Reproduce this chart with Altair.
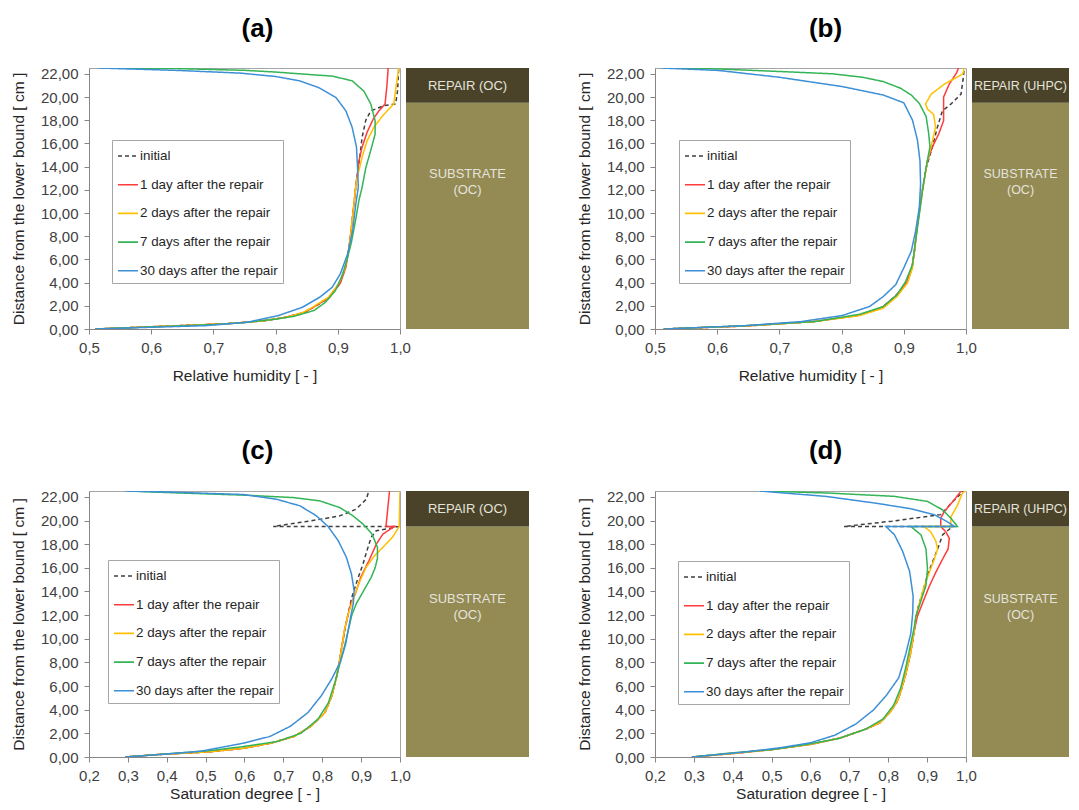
import altair as alt
import pandas as pd

FONT = "Liberation Sans"
SERIES = ["initial", "1 day after the repair", "2 days after the repair",
          "7 days after the repair", "30 days after the repair"]
COLORS = ["#3f3f3f", "#ff3b3b", "#ffc000", "#33b556", "#3d8fd6"]
DASHES = [[4, 3], [1, 0], [1, 0], [1, 0], [1, 0]]

# ---------------- (a) relative humidity, repair OC ----------------
A_INIT_X = [0.510, 0.580, 0.650, 0.720, 0.780, 0.815, 0.845, 0.862, 0.886, 0.903, 0.912, 0.918, 0.922, 0.926, 0.930, 0.936, 0.939, 0.945, 0.953, 0.974, 0.993, 0.996, 0.998]
A_INIT_Y = [0.00, 0.15, 0.30, 0.45, 0.70, 1.00, 1.40, 1.90, 2.70, 3.90, 5.30, 7.00, 8.80, 10.80, 12.80, 15.10, 16.50, 18.00, 18.80, 19.25, 19.40, 20.50, 22.50]
A_1D_X = [0.510, 0.580, 0.650, 0.720, 0.780, 0.815, 0.845, 0.862, 0.887, 0.904, 0.913, 0.918, 0.922, 0.926, 0.930, 0.934, 0.939, 0.947, 0.957, 0.966, 0.976, 0.979, 0.981]
A_1D_Y = [0.00, 0.15, 0.30, 0.45, 0.70, 1.00, 1.40, 1.90, 2.75, 3.95, 5.30, 7.00, 8.80, 10.80, 12.80, 14.50, 15.66, 16.95, 18.10, 18.80, 19.40, 21.00, 22.50]
A_2D_X = [0.510, 0.580, 0.650, 0.720, 0.780, 0.815, 0.843, 0.860, 0.885, 0.902, 0.912, 0.918, 0.922, 0.926, 0.930, 0.934, 0.939, 0.947, 0.958, 0.974, 0.990, 0.994, 0.998]
A_2D_Y = [0.00, 0.15, 0.30, 0.45, 0.70, 1.00, 1.40, 1.90, 2.75, 3.95, 5.30, 7.00, 8.80, 10.80, 12.80, 13.66, 14.80, 16.20, 17.40, 18.50, 19.40, 21.00, 22.50]
A_7D_X = [0.510, 0.600, 0.700, 0.750, 0.800, 0.830, 0.862, 0.880, 0.896, 0.907, 0.915, 0.922, 0.929, 0.934, 0.939, 0.945, 0.953, 0.960, 0.960, 0.953, 0.942, 0.923, 0.891, 0.838, 0.800, 0.750, 0.640, 0.520]
A_7D_Y = [0.00, 0.18, 0.38, 0.55, 0.85, 1.10, 1.60, 2.30, 3.30, 4.60, 6.00, 7.50, 9.50, 11.10, 12.20, 13.90, 15.40, 16.80, 17.95, 19.40, 20.50, 21.40, 21.80, 22.00, 22.15, 22.30, 22.45, 22.50]
A_30D_X = [0.510, 0.593, 0.688, 0.754, 0.804, 0.843, 0.871, 0.891, 0.904, 0.916, 0.924, 0.929, 0.933, 0.932, 0.930, 0.923, 0.913, 0.897, 0.870, 0.838, 0.800, 0.743, 0.643, 0.515]
A_30D_Y = [0.00, 0.14, 0.29, 0.58, 1.15, 1.87, 2.74, 3.60, 4.75, 6.50, 8.50, 10.80, 12.20, 13.66, 15.70, 17.40, 18.80, 19.96, 20.80, 21.40, 21.77, 22.06, 22.29, 22.50]

# ---------------- (b) relative humidity, repair UHPC ----------------
B_INIT_X = [0.514, 0.646, 0.755, 0.826, 0.864, 0.886, 0.904, 0.913, 0.917, 0.922, 0.927, 0.930, 0.935, 0.946, 0.954, 0.962, 0.976, 0.992, 0.996, 0.997]
B_INIT_Y = [0.00, 0.26, 0.64, 1.16, 1.80, 2.80, 3.90, 5.20, 6.70, 9.00, 11.00, 12.00, 13.70, 15.70, 17.40, 18.80, 19.40, 20.25, 21.80, 22.50]
B_1D_X = [0.514, 0.646, 0.755, 0.826, 0.864, 0.886, 0.904, 0.913, 0.917, 0.922, 0.927, 0.930, 0.938, 0.946, 0.956, 0.964, 0.964, 0.964, 0.973, 0.985, 0.988]
B_1D_Y = [0.00, 0.26, 0.64, 1.16, 1.80, 2.80, 3.90, 5.20, 6.70, 9.00, 11.00, 12.00, 14.50, 15.70, 16.80, 17.96, 18.80, 20.00, 21.10, 22.10, 22.50]
B_2D_X = [0.514, 0.646, 0.757, 0.829, 0.867, 0.889, 0.906, 0.914, 0.917, 0.922, 0.928, 0.930, 0.938, 0.946, 0.951, 0.948, 0.938, 0.935, 0.944, 0.965, 0.995, 0.997]
B_2D_Y = [0.00, 0.26, 0.64, 1.16, 1.80, 2.80, 3.97, 5.27, 6.70, 9.00, 11.05, 11.90, 14.50, 16.20, 17.40, 18.50, 18.96, 19.40, 20.25, 21.10, 22.00, 22.50]
B_7D_X = [0.514, 0.646, 0.757, 0.829, 0.867, 0.889, 0.903, 0.914, 0.919, 0.925, 0.930, 0.936, 0.942, 0.940, 0.936, 0.925, 0.912, 0.895, 0.867, 0.834, 0.785, 0.700, 0.600, 0.520]
B_7D_Y = [0.00, 0.29, 0.64, 1.27, 1.94, 2.95, 4.10, 5.56, 7.60, 9.90, 11.90, 13.95, 15.70, 16.85, 18.30, 19.45, 20.17, 20.75, 21.33, 21.70, 22.00, 22.20, 22.42, 22.50]
B_30D_X = [0.514, 0.646, 0.735, 0.801, 0.845, 0.867, 0.887, 0.900, 0.912, 0.919, 0.925, 0.927, 0.926, 0.922, 0.914, 0.900, 0.867, 0.801, 0.700, 0.602, 0.510]
B_30D_Y = [0.00, 0.29, 0.64, 1.16, 1.94, 2.80, 3.82, 5.27, 6.70, 8.45, 10.50, 12.50, 14.50, 16.27, 18.00, 19.50, 20.17, 20.90, 21.70, 22.29, 22.50]

# ---------------- (c) saturation degree, repair OC ----------------
C_INIT_X = [0.293, 0.373, 0.506, 0.594, 0.665, 0.727, 0.771, 0.807, 0.825, 0.838, 0.847, 0.858, 0.866, 0.876, 0.890, 0.905, 0.915, 0.926, 0.939, 0.998, 0.674, 0.725, 0.794, 0.845, 0.887, 0.913, 0.920]
C_INIT_Y = [0.00, 0.20, 0.43, 0.72, 1.15, 1.73, 2.60, 3.75, 5.20, 6.93, 8.66, 10.70, 12.00, 13.50, 14.94, 16.34, 17.46, 18.60, 19.14, 19.50, 19.50, 19.75, 20.10, 20.40, 20.96, 21.80, 22.50]
C_1D_X = [0.293, 0.373, 0.506, 0.594, 0.665, 0.727, 0.771, 0.807, 0.825, 0.838, 0.847, 0.857, 0.866, 0.874, 0.885, 0.899, 0.920, 0.939, 0.956, 0.986, 0.964, 0.973]
C_1D_Y = [0.00, 0.20, 0.43, 0.72, 1.15, 1.73, 2.60, 3.75, 5.20, 6.93, 8.66, 10.70, 12.00, 13.00, 13.80, 15.20, 16.60, 18.00, 18.86, 19.50, 19.50, 22.50]
C_2D_X = [0.293, 0.373, 0.506, 0.594, 0.665, 0.727, 0.771, 0.807, 0.825, 0.838, 0.847, 0.857, 0.866, 0.881, 0.894, 0.913, 0.934, 0.956, 0.981, 0.998, 1.000]
C_2D_Y = [0.00, 0.20, 0.43, 0.72, 1.15, 1.73, 2.60, 3.75, 5.20, 6.93, 8.66, 10.70, 12.00, 13.50, 14.66, 16.06, 17.00, 17.74, 18.60, 19.50, 22.50]
C_7D_X = [0.293, 0.373, 0.506, 0.594, 0.683, 0.745, 0.789, 0.816, 0.833, 0.847, 0.856, 0.869, 0.876, 0.888, 0.902, 0.914, 0.926, 0.936, 0.942, 0.942, 0.928, 0.905, 0.879, 0.845, 0.794, 0.726, 0.598, 0.417, 0.300]
C_7D_Y = [0.00, 0.20, 0.52, 0.87, 1.30, 2.00, 3.20, 4.60, 6.35, 8.10, 9.20, 11.00, 12.00, 13.00, 13.80, 14.50, 15.20, 16.00, 16.80, 17.74, 18.86, 19.70, 20.40, 21.10, 21.66, 21.94, 22.15, 22.35, 22.50]
C_30D_X = [0.293, 0.390, 0.488, 0.594, 0.665, 0.718, 0.763, 0.798, 0.825, 0.847, 0.860, 0.873, 0.880, 0.882, 0.875, 0.862, 0.841, 0.815, 0.785, 0.743, 0.683, 0.598, 0.506, 0.417, 0.293]
C_30D_Y = [0.00, 0.23, 0.49, 1.15, 1.73, 2.60, 3.75, 5.20, 6.64, 8.08, 9.53, 11.84, 13.00, 14.10, 15.50, 16.90, 18.30, 19.50, 20.40, 21.24, 21.80, 22.20, 22.30, 22.40, 22.50]

# ---------------- (d) saturation degree, repair UHPC ----------------
D_INIT_X = [0.295, 0.398, 0.504, 0.601, 0.681, 0.743, 0.779, 0.805, 0.823, 0.832, 0.845, 0.857, 0.867, 0.875, 0.888, 0.901, 0.914, 0.927, 0.940, 0.966, 0.686, 0.810, 0.935, 0.966, 0.991, 0.993]
D_INIT_Y = [0.00, 0.29, 0.64, 1.07, 1.65, 2.37, 2.90, 3.80, 4.70, 5.50, 7.00, 8.70, 10.70, 12.50, 13.90, 15.40, 16.50, 17.60, 18.80, 19.50, 19.50, 19.95, 20.50, 21.60, 22.40, 22.50]
D_1D_X = [0.295, 0.398, 0.504, 0.601, 0.681, 0.743, 0.779, 0.805, 0.823, 0.832, 0.845, 0.857, 0.867, 0.875, 0.888, 0.905, 0.922, 0.940, 0.954, 0.957, 0.948, 0.935, 0.935, 0.944, 0.966, 0.985, 0.988]
D_1D_Y = [0.00, 0.29, 0.64, 1.07, 1.65, 2.37, 2.90, 3.80, 4.70, 5.50, 7.00, 8.70, 10.70, 11.90, 13.00, 14.40, 15.60, 16.75, 17.60, 18.50, 19.05, 19.50, 20.20, 20.75, 21.60, 22.40, 22.50]
D_2D_X = [0.295, 0.398, 0.504, 0.601, 0.681, 0.743, 0.779, 0.805, 0.823, 0.832, 0.845, 0.857, 0.867, 0.871, 0.880, 0.892, 0.905, 0.918, 0.927, 0.922, 0.909, 0.892, 0.966, 0.961, 0.961, 0.978, 0.991, 0.998]
D_2D_Y = [0.00, 0.29, 0.64, 1.07, 1.65, 2.37, 2.90, 3.80, 4.70, 5.50, 7.00, 8.70, 10.70, 11.90, 13.00, 14.40, 15.55, 16.70, 17.60, 18.30, 19.05, 19.50, 19.50, 19.60, 20.30, 21.30, 22.33, 22.50]
D_7D_X = [0.295, 0.398, 0.504, 0.592, 0.672, 0.743, 0.787, 0.814, 0.832, 0.845, 0.858, 0.867, 0.871, 0.880, 0.897, 0.901, 0.897, 0.884, 0.858, 0.978, 0.961, 0.940, 0.901, 0.815, 0.643, 0.471]
D_7D_Y = [0.00, 0.35, 0.64, 1.07, 1.56, 2.37, 3.23, 4.39, 5.83, 7.56, 9.60, 11.00, 11.90, 12.80, 14.50, 15.90, 17.60, 18.80, 19.50, 19.50, 20.20, 20.90, 21.62, 22.05, 22.33, 22.50]
D_30D_X = [0.295, 0.433, 0.522, 0.601, 0.663, 0.717, 0.761, 0.796, 0.827, 0.845, 0.858, 0.863, 0.864, 0.855, 0.837, 0.816, 0.794, 0.970, 0.952, 0.918, 0.858, 0.772, 0.643, 0.471]
D_30D_Y = [0.00, 0.43, 0.78, 1.21, 1.85, 2.80, 3.95, 5.25, 6.70, 8.70, 10.45, 12.20, 13.60, 15.70, 17.40, 18.80, 19.50, 19.50, 19.90, 20.50, 21.00, 21.45, 22.03, 22.50]

# layer boundaries of the specimen [cm]
LAYER_NAMES = ["substrate", "repair"]
LAYER_BOTTOM = [0.0, 19.5]
LAYER_TOP = [19.5, 22.5]
LAYER_FILLS = ["#948a54", "#4a4329"]
SUBSTRATE_LABEL = "SUBSTRATE\n(OC)"
SUBSTRATE_LABEL_Y = 13.35
REPAIR_LABEL_Y = 20.95

Y_TICKS = [0, 2, 4, 6, 8, 10, 12, 14, 16, 18, 20, 22]
RH_TICKS = [0.5, 0.6, 0.7, 0.8, 0.9, 1.0]
SD_TICKS = [0.2, 0.3, 0.4, 0.5, 0.6, 0.7, 0.8, 0.9, 1.0]

PLOT_W = 311
BOX_W = 123          # full width of the layer strip
BOX_W_RIGHT = 97     # right-hand strip is cut by the page edge


def make_df(pairs):
    rows = []
    for name, (xs, ys) in zip(SERIES, pairs):
        for i, (x, y) in enumerate(zip(xs, ys)):
            rows.append({"series": name, "x": x, "y": y, "i": i})
    return pd.DataFrame(rows)


def legend(lx, ly):
    return alt.Legend(title=None, orient="none", legendX=lx, legendY=ly,
                      fillColor="white", strokeColor="#a6a6a6", padding=5,
                      rowPadding=10.7, symbolType="stroke", symbolSize=400,
                      symbolStrokeWidth=1.6, labelFont=FONT, labelFontSize=13.4,
                      labelColor="#262626", labelOffset=1, labelLimit=300)


def lines_chart(df, h, xdom, xticks, xtitle, title, lx, ly, tdx, toff, xtpad):
    leg = legend(lx, ly)
    return alt.Chart(df).mark_line(strokeWidth=1.5, clip=True).encode(
        x=alt.X("x:Q", scale=alt.Scale(domain=xdom, nice=False, zero=False),
                axis=alt.Axis(values=xticks, title=xtitle, titlePadding=xtpad,
                              labelExpr="replace(format(datum.value, '.1f'), '.', ',')")),
        y=alt.Y("y:Q", scale=alt.Scale(domain=[0, 22.5], nice=False, zero=True),
                axis=alt.Axis(values=Y_TICKS, title="Distance from the lower bound [ cm ]",
                              labelExpr="replace(format(datum.value, '.2f'), '.', ',')")),
        color=alt.Color("series:N", scale=alt.Scale(domain=SERIES, range=COLORS), legend=leg),
        strokeDash=alt.StrokeDash("series:N", scale=alt.Scale(domain=SERIES, range=DASHES), legend=leg),
        detail="series:N",
        order=alt.Order("i:Q"),
    ).properties(width=PLOT_W, height=h,
                 title=alt.TitleParams(title, fontSize=26, fontWeight="bold", font=FONT,
                                       color="#000000", dx=tdx, offset=toff))


def box_chart(repair_label, w, h):
    bdf = pd.DataFrame({"layer": LAYER_NAMES, "y0": LAYER_BOTTOM, "y1": LAYER_TOP, "fill": LAYER_FILLS})
    tdf = pd.DataFrame({"label": [repair_label, SUBSTRATE_LABEL], "y": [REPAIR_LABEL_Y, SUBSTRATE_LABEL_Y]})
    ys = alt.Scale(domain=[0, 22.5], nice=False)
    rect = alt.Chart(bdf).mark_rect().encode(
        y=alt.Y("y0:Q", scale=ys, axis=None), y2="y1:Q",
        x=alt.value(0), x2=alt.value(w),
        fill=alt.Fill("fill:N", scale=None, legend=None),
    )
    text = alt.Chart(tdf).mark_text(font=FONT, fontSize=12.5 if w < BOX_W else 13, color="#e4e4dc",
                                    lineBreak="\n", lineHeight=16,
                                    baseline="middle", align="center").encode(
        y=alt.Y("y:Q", scale=ys, axis=None), x=alt.value(w / 2), text="label:N")
    return alt.layer(rect, text).properties(width=w, height=h,
                                            view=alt.ViewBackground(strokeWidth=0))


def independent(c):
    return c.resolve_scale(color="independent", strokeDash="independent", fill="independent").resolve_legend(
        color="independent", strokeDash="independent", fill="independent")


def panel(pairs, h, xdom, xticks, xtitle, title, lx, ly, repair_label, box_w, tdx, toff, xtpad):
    df = make_df(pairs)
    return independent(alt.hconcat(lines_chart(df, h, xdom, xticks, xtitle, title, lx, ly, tdx, toff, xtpad),
                                   box_chart(repair_label, box_w, h), spacing=6, bounds="flush"))


pa = panel([(A_INIT_X, A_INIT_Y), (A_1D_X, A_1D_Y), (A_2D_X, A_2D_Y), (A_7D_X, A_7D_Y), (A_30D_X, A_30D_Y)],
           261, [0.5, 1.0], RH_TICKS, "Relative humidity [ - ]", "(a)", 23, 72, "REPAIR (OC)", BOX_W, 13, 25, 13)
pb = panel([(B_INIT_X, B_INIT_Y), (B_1D_X, B_1D_Y), (B_2D_X, B_2D_Y), (B_7D_X, B_7D_Y), (B_30D_X, B_30D_Y)],
           261, [0.5, 1.0], RH_TICKS, "Relative humidity [ - ]", "(b)", 24, 72, "REPAIR (UHPC)", BOX_W_RIGHT, 15, 25, 13)
pc = panel([(C_INIT_X, C_INIT_Y), (C_1D_X, C_1D_Y), (C_2D_X, C_2D_Y), (C_7D_X, C_7D_Y), (C_30D_X, C_30D_Y)],
           266, [0.2, 1.0], SD_TICKS, "Saturation degree [ - ]", "(c)", 19, 69, "REPAIR (OC)", BOX_W, 13, 26, 3)
pd_ = panel([(D_INIT_X, D_INIT_Y), (D_1D_X, D_1D_Y), (D_2D_X, D_2D_Y), (D_7D_X, D_7D_Y), (D_30D_X, D_30D_Y)],
            266, [0.2, 1.0], SD_TICKS, "Saturation degree [ - ]", "(d)", 23, 70, "REPAIR (UHPC)", BOX_W_RIGHT, 15, 26, 3)

row1 = independent(alt.hconcat(pa, pb, spacing=47))
row2 = independent(alt.hconcat(pc, pd_, spacing=47))

chart = independent(alt.vconcat(row1, row2, spacing=53)).properties(
    padding={"left": 2, "top": 7, "right": 0, "bottom": 0}
).configure(font=FONT).configure_view(
    stroke="#a6a6a6", strokeWidth=1
).configure_axis(
    labelFont=FONT, labelFontSize=15, labelColor="#404040",
    titleFont=FONT, titleFontSize=15.5, titleFontWeight="normal", titleColor="#262626",
    domainColor="#868686", tickColor="#868686", tickSize=5, grid=False,
    labelPadding=6, labelFlush=False, labelOverlap=False
).configure_axisY(titlePadding=14)

chart.save("out.html", embed_options={"renderer": "svg", "actions": False})
